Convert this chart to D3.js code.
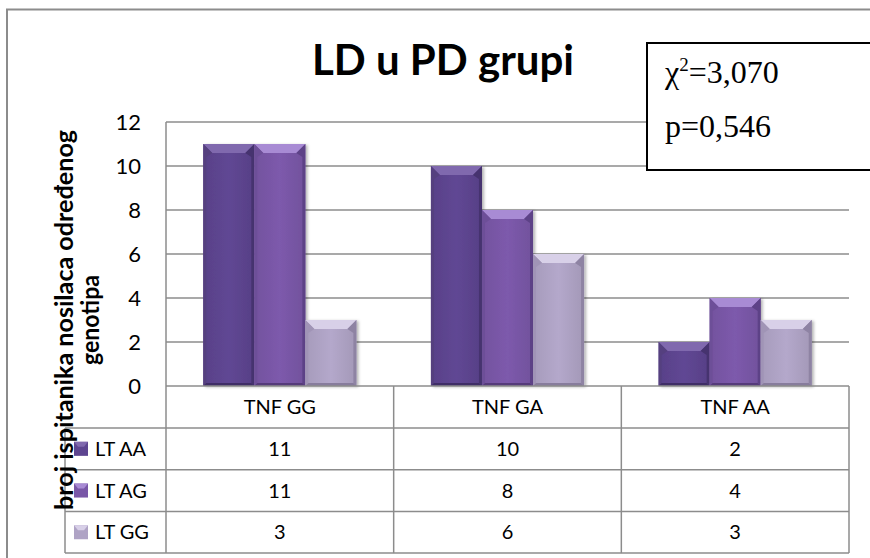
<!DOCTYPE html>
<html><head><meta charset="utf-8">
<script src="https://cdn.jsdelivr.net/npm/d3@7"></script>
<style>html,body{margin:0;padding:0;background:#fff;} svg{display:block;}</style>
</head><body>
<svg id="c" width="870" height="558"></svg>
<script>
const categories = ["TNF GG", "TNF GA", "TNF AA"];
const seriesNames = ["LT AA", "LT AG", "LT GG"];
const valuesLTAA = [11, 10, 2];
const valuesLTAG = [11, 8, 4];
const valuesLTGG = [3, 6, 3];
const yTicks = [0, 2, 4, 6, 8, 10, 12];
const titleText = "LD u PD grupi";
const yTitleLines = ["broj ispitanika nosilaca određenog", "genotipa"];
const chiText = "3,070";
const pText = "p=0,546";

const seriesValues = [valuesLTAA, valuesLTAG, valuesLTGG];
const colors = [
  {base:"#5d4590", top:"#8069ae", left:"#55407f", right:"#46336f", bottom:"#3f2d66"},
  {base:"#7957a7", top:"#a88bd4", left:"#6d4f98", right:"#5d4287", bottom:"#553a7a"},
  {base:"#afa3c5", top:"#d8d0e8", left:"#a094b6", right:"#8e83a3", bottom:"#877c9c"}
];

const svg = d3.select("#c");
const defs = svg.append("defs");
const f = defs.append("filter").attr("id","sh").attr("x","-10%").attr("y","-10%").attr("width","130%").attr("height","130%");
f.append("feDropShadow").attr("dx",2).attr("dy",1).attr("stdDeviation",1.5).attr("flood-color","#000").attr("flood-opacity",0.3);
colors.forEach((c,i)=>{
  const lg = defs.append("linearGradient").attr("id","g"+i).attr("x1","0").attr("x2","1").attr("y1","0").attr("y2","0");
  lg.append("stop").attr("offset","0").attr("stop-color",d3.color(c.base).darker(0.15));
  lg.append("stop").attr("offset","0.5").attr("stop-color",d3.color(c.base).brighter(0.08));
  lg.append("stop").attr("offset","1").attr("stop-color",d3.color(c.base).darker(0.2));
});

// outer border
svg.append("rect").attr("x",7).attr("y",9.5).attr("width",900).attr("height",600)
  .attr("fill","none").attr("stroke","#8c8c8c").attr("stroke-width",2);

const L = 166, R = 849, T = 122, B = 386;
const x0 = d3.scaleBand().domain(categories).range([L, R]).paddingInner(0).paddingOuter(0);
const x1 = d3.scaleBand().domain(seriesNames).range([0, x0.bandwidth()]).paddingInner(0).paddingOuter(0.73);
const y = d3.scaleLinear().domain([0, 12]).range([B, T]);

// gridlines
svg.append("g").selectAll("line").data(yTicks.filter(d=>d>0)).join("line")
  .attr("x1", L).attr("x2", R).attr("y1", d=>y(d)).attr("y2", d=>y(d))
  .attr("stroke","#8c8c8c").attr("stroke-width",1.5);
svg.append("line").attr("x1",L).attr("x2",L).attr("y1",y(12)).attr("y2",B)
  .attr("stroke","#8c8c8c").attr("stroke-width",1.5);

// y tick labels
svg.append("g").selectAll("text").data(yTicks).join("text")
  .attr("x", 141).attr("y", d=>y(d)).attr("dy","0.36em").attr("text-anchor","end")
  .attr("font-family","Lato, sans-serif").attr("font-size",22).attr("fill","#000")
  .text(d=>d);

// bars
const bars = [];
seriesNames.forEach((s,si)=>{
  categories.forEach((c,ci)=>{
    bars.push({s, si, c, v: seriesValues[si][ci]});
  });
});
const bg = svg.append("g");
const pts = (arr)=>arr.map(p=>p.join(",")).join(" ");
bars.forEach(b=>{
  const bx = x0(b.c) + x1(b.s), bw = x1.bandwidth();
  const by = y(b.v), bh = B - by;
  const col = colors[b.si];
  const g = bg.append("g");
  g.append("rect").attr("x",bx).attr("y",by).attr("width",bw).attr("height",bh)
    .attr("fill","url(#g"+b.si+")").attr("filter","url(#sh)");
  const bt = 9, bs = 3;
  g.append("polygon").attr("points", pts([[bx,by],[bx+bw,by],[bx+bw-bt,by+bt],[bx+bt,by+bt]])).attr("fill",col.top);
  g.append("polygon").attr("points", pts([[bx,by],[bx+bt,by+bt],[bx+bs,by+bt+4],[bx+bs,B-bs],[bx,B]])).attr("fill",col.left);
  g.append("polygon").attr("points", pts([[bx+bw,by],[bx+bw-bt,by+bt],[bx+bw-bs,by+bt+4],[bx+bw-bs,B-bs],[bx+bw,B]])).attr("fill",col.right);
  g.append("polygon").attr("points", pts([[bx,B],[bx+bs,B-bs],[bx+bw-bs,B-bs],[bx+bw,B]])).attr("fill",col.bottom);
});

// data table
const rowH = 41.7;
const hdrBottom = 428;
const tbl = svg.append("g").attr("stroke","#8c8c8c").attr("stroke-width",1.5);
const rowLines = [B, hdrBottom, hdrBottom+rowH, hdrBottom+2*rowH, hdrBottom+3*rowH];
rowLines.forEach((ly,i)=>{
  tbl.append("line").attr("x1", i===0 ? L : 65).attr("x2", R).attr("y1", ly).attr("y2", ly);
});
categories.forEach(c=>{
  tbl.append("line").attr("x1",x0(c)).attr("x2",x0(c)).attr("y1",B).attr("y2",rowLines[4]);
});
tbl.append("line").attr("x1",R).attr("x2",R).attr("y1",B).attr("y2",rowLines[4]);
tbl.append("line").attr("x1",65).attr("x2",65).attr("y1",hdrBottom).attr("y2",rowLines[4]);

// header labels
svg.append("g").selectAll("text").data(categories).join("text")
  .attr("x", d=>x0(d)+x0.bandwidth()/2).attr("y",(B+hdrBottom)/2).attr("dy","0.36em")
  .attr("text-anchor","middle").attr("font-family","Lato, sans-serif").attr("font-size",20).text(d=>d);

// rows
seriesNames.forEach((s,si)=>{
  const cy = hdrBottom + rowH*si + rowH/2;
  const col = colors[si];
  const lg = svg.append("g");
  lg.append("rect").attr("x",74).attr("y",cy-7).attr("width",14).attr("height",14).attr("fill",col.base);
  lg.append("polygon").attr("points",`74,${cy-7} 88,${cy-7} 84,${cy-2} 78,${cy-2}`).attr("fill",col.top);
  lg.append("text").attr("x",95).attr("y",cy).attr("dy","0.36em")
    .attr("font-family","Lato, sans-serif").attr("font-size",20).text(s);
  categories.forEach((c,ci)=>{
    svg.append("text").attr("x",x0(c)+x0.bandwidth()/2).attr("y",cy).attr("dy","0.36em")
      .attr("text-anchor","middle").attr("font-family","Lato, sans-serif").attr("font-size",20)
      .text(seriesValues[si][ci]);
  });
});

// y title
const yt = svg.append("text").attr("transform","translate(0,320) rotate(-90)")
  .attr("text-anchor","middle").attr("font-family","Lato, sans-serif").attr("font-weight","bold").attr("font-size",24);
yt.append("tspan").attr("x",0).attr("y",73).attr("textLength",380).attr("lengthAdjust","spacingAndGlyphs").text(yTitleLines[0]);
yt.append("tspan").attr("x",0).attr("y",99).attr("textLength",90).attr("lengthAdjust","spacingAndGlyphs").text(yTitleLines[1]);

// title
svg.append("text").attr("x",443).attr("y",75).attr("text-anchor","middle")
  .attr("font-family","Lato, sans-serif").attr("font-weight","bold").attr("font-size",42).text(titleText);

// stats box
svg.append("rect").attr("x",647).attr("y",43).attr("width",260).attr("height",127)
  .attr("fill","#fff").attr("stroke","#000").attr("stroke-width",2);
const serif = "'Liberation Serif', 'Times New Roman', serif";
const st = svg.append("text").attr("x",665).attr("y",83).attr("font-family",serif).attr("font-size",32);
st.append("tspan").text("χ");
st.append("tspan").attr("dy",-12).attr("font-size",19).text("2");
st.append("tspan").attr("dy",12).text("=" + chiText);
svg.append("text").attr("x",665).attr("y",137).attr("font-family",serif).attr("font-size",32).text(pText);
</script>
</body></html>
